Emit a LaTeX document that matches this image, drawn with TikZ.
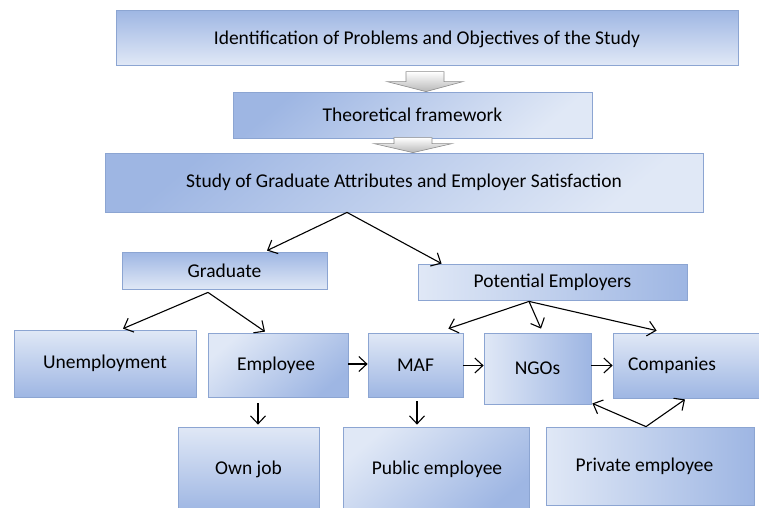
\documentclass[tikz,border=0pt]{standalone}
\usepackage{fontspec}
\setmainfont{Carlito}
\usetikzlibrary{calc,arrows.meta}

\definecolor{boxdark}{RGB}{158,182,227}
\definecolor{boxlight}{RGB}{224,232,246}
\definecolor{boxedge}{RGB}{140,165,210}

\tikzset{
  box/.style={rectangle, draw=boxedge, line width=0.8pt, inner sep=0pt,
    font=\fontsize{19.5pt}{23pt}\selectfont, text=black},
  darktop/.style={top color=boxdark, bottom color=boxlight},
  darkdiag/.style={top color=boxdark, bottom color=boxlight, shading angle=40},
  lighttop/.style={top color=boxlight, bottom color=boxdark},
  lightdiag/.style={top color=boxlight, bottom color=boxdark, shading angle=40},
  lightleft/.style={left color=boxlight, right color=boxdark},
  conn/.style={draw=black, line width=1.1pt, -{Straight Barb[length=8pt,width=15pt]}},
  blockarr/.style={top color=white, bottom color=black!28, draw=black!45, line width=0.6pt},
}

\begin{document}
\begin{tikzpicture}[x=1pt, y=-1pt]
\useasboundingbox (0,0) rectangle (759,507);

% top row of the process
\node[box, darktop, minimum width=622pt, minimum height=55pt, text depth=1pt] (top) at (427,37.5)
  {\raisebox{-2pt}{Identification of Problems and Objectives of the Study}};
\node[box, darkdiag, minimum width=359pt, minimum height=46pt] (theo) at (412.5,115)
  {Theoretical framework};
\node[box, darkdiag, minimum width=598pt, minimum height=59pt] (study) at (404,182.5)
  {Study of Graduate Attributes and Employer Satisfaction};

% block arrows between the top boxes
\coordinate (t1) at ($(theo.north)+(13.5,0)$);
\path[blockarr, shift={(t1)}] (-20,-20) -- (18,-20) -- (18,-10) -- (37,-10) -- (0,0)
  -- (-39,-10) -- (-20,-10) -- cycle;
\coordinate (t2) at ($(study.north)+(9,0)$);
\path[blockarr, shift={(t2)}] (-19,-15) -- (19,-15) -- (19,-9) -- (39,-9) -- (0,0)
  -- (-39,-9) -- (-19,-9) -- cycle;

% second level
\node[box, darktop, minimum width=205pt, minimum height=37pt] (grad) at (224.5,270.5)
  {Graduate};
\node[box, lightleft, minimum width=269pt, minimum height=36pt] (pot) at (552.5,282)
  {Potential Employers};

% third level
\node[box, lighttop, minimum width=182pt, minimum height=67pt] (unemp) at (105,363.5)
  {Unemployment};
\node[box, lightdiag, minimum width=140pt, minimum height=64pt] (emp) at (278,365)
  {\hspace*{-4pt}Employee};
\node[box, lighttop, minimum width=95pt, minimum height=64pt] (maf) at (415.5,365)
  {MAF};
\node[box, lightleft, minimum width=107pt, minimum height=71pt] (ngo) at (537.5,368.5)
  {NGOs};
\node[box, lighttop, minimum width=146pt, minimum height=65pt] (comp) at (686,365.5)
  {\hspace*{-28pt}Companies};

% fourth level
\node[box, lighttop, minimum width=141pt, minimum height=85pt] (own) at (248.5,469.5)
  {Own job};
\node[box, lightdiag, minimum width=186pt, minimum height=85pt] (pub) at (436,469.5)
  {\hspace*{2pt}Public employee};
\node[box, lightleft, minimum width=208pt, minimum height=78pt] (priv) at (650,466)
  {\hspace*{-11pt}\raisebox{-2pt}{Private employee}};

% connectors
\draw[conn] ($(study.south)+(-57,0)$) -- ($(grad.north)+(42.5,-1)$);
\draw[conn] ($(study.south)+(-57,0)$) -- ($(pot.north west)+(24,0)$);
\draw[conn] ($(grad.south)+(-16.5,3)$) -- ($(unemp.north)+(18,-1)$);
\draw[conn] ($(grad.south)+(-16.5,3)$) -- ($(emp.north)+(-13,-1)$);
\draw[conn] ($(pot.south)+(-23.5,1)$) -- ($(maf.north east)+(-15,-4)$);
\draw[conn] ($(pot.south)+(-23.5,1)$) -- ($(ngo.north)+(3.5,-4)$);
\draw[conn] ($(pot.south)+(-23.5,1)$) -- ($(comp.north west)+(44,-2)$);
\draw[conn] ($(emp.east)+(0,-1)$) -- ($(maf.west)+(0,-1)$);
\draw[conn] (maf.east |- comp.west) -- (ngo.west |- comp.west);
\draw[conn] (ngo.east |- comp.west) -- (comp.west);
\draw[conn] ($(emp.south)+(-20,6)$) -- ($(own.north)+(9.5,-2)$);
\draw[conn] ($(maf.south)+(1.5,4)$) -- ($(pub.north)+(-19,-2)$);
\draw[conn] ($(priv.north)+(-4,0)$) -- ($(ngo.south east)+(1,-1)$);
\draw[conn] ($(priv.north)+(-4,0)$) -- ($(comp.south)+(-1,1)$);
\end{tikzpicture}
\end{document}
